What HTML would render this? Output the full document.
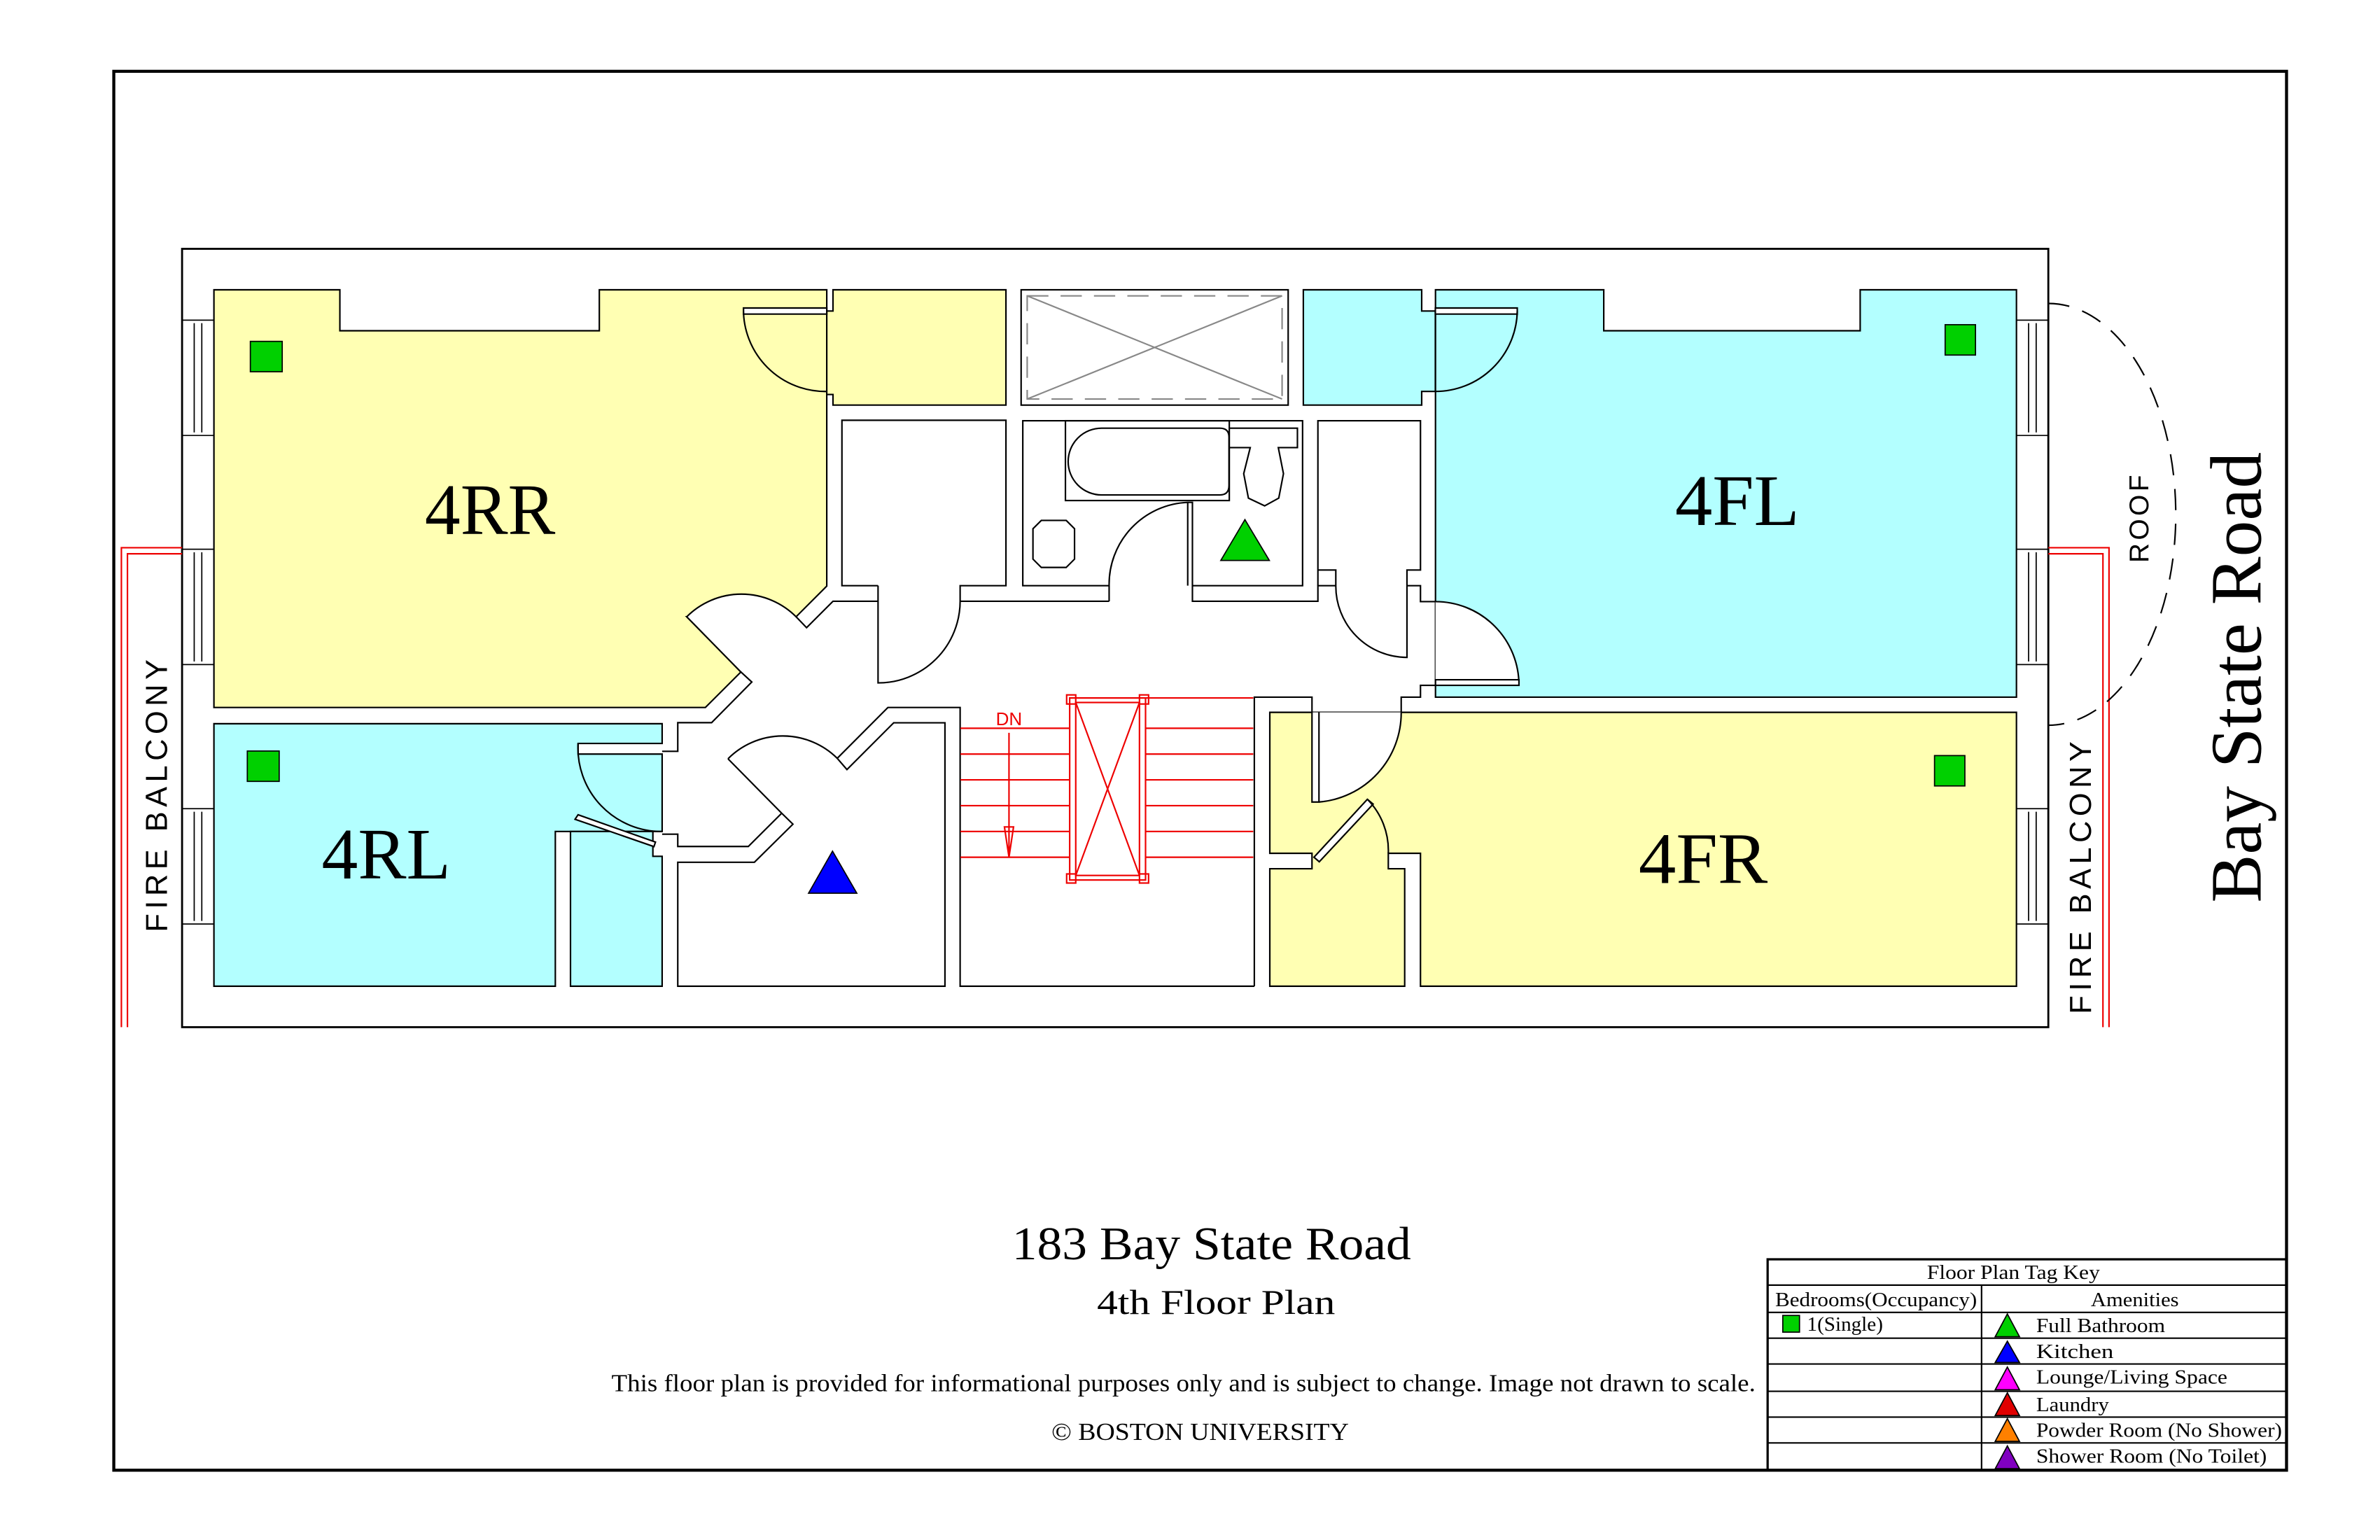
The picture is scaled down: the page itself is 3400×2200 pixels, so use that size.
<!DOCTYPE html>
<html><head><meta charset="utf-8"><style>
html,body{margin:0;padding:0;background:#fff}
svg{display:block}
.s{font-family:"Liberation Serif",serif}
.a{font-family:"Liberation Sans",sans-serif}
</style></head><body>
<svg width="3400" height="2200" viewBox="0 0 1568.6 1015" preserveAspectRatio="none" xmlns="http://www.w3.org/2000/svg">
<rect x="0" y="0" width="1569" height="1015" fill="#fff"/>
<rect x="75" y="47" width="1432" height="922" fill="none" stroke="#000" stroke-width="2"/>
<rect x="120" y="164" width="1230" height="513" fill="none" stroke="#000" stroke-width="1.3"/>
<g stroke="#000" stroke-width="1" fill="#ffffb3">
<polygon points="141,191 224,191 224,218 395,218 395,191 544.9,191 544.9,386.3 524.7,406.5 452.6,406.5 488.3,442.9 464.9,466.3 141,466.3"/>
<polygon points="549,191 663,191 663,267 549,267 549,260 544.9,260 544.9,205 549,205"/>
<polygon points="836.9,469.5 1329,469.5 1329,650 936.2,650 936.2,562.4 915,562.4 915,572.6 925.8,572.6 925.8,650 836.9,650 836.9,572.6 864.7,572.6 864.7,562.4 836.9,562.4"/>
</g>
<g stroke="#000" stroke-width="1" fill="#b3ffff">
<polygon points="859,191 937,191 937,205 946,205 946,258 937,258 937,267 859,267"/>
<polygon points="946.1,191 1057,191 1057,218 1226,218 1226,191 1329,191 1329,459.5 946.1,459.5"/>
<polygon points="141,477 436.4,477 436.4,490 381,490 381,497 436.4,497 436.4,548 366,548 366,650 141,650"/>
<polygon points="376,548 430.3,548 430.3,564.4 436.4,564.4 436.4,650 376,650"/>
</g>
<g stroke="#000" stroke-width="1" fill="none">
<!-- 4RR doors -->
<path d="M488.3,442.9 L452.6,406.5 A51,51 0 0 1 524.7,406.5 Z" fill="#fff" stroke="none"/>
<path d="M452.6,406.5 A51,51 0 0 1 524.7,406.5"/>
<path d="M452.6,406.5 L488.3,442.9 L495.5,449.5 L469,476.3 L446.7,476.3 L446.7,495.2 L436.4,495.2"/>
<path d="M524.7,406.5 L531.6,413.7 L549,396.3 L578.7,396.3"/>
<path d="M490,203 L544.9,203 L544.9,207 L490,207 Z" fill="#fff"/>
<path d="M490,203 A54,54 0 0 0 544.9,258"/>
<!-- closet left -->
<path d="M578.7,386 L554.9,386 L554.9,277 L663,277 L663,386 L632.8,386 L632.8,396.3 L731,396.3"/>
<path d="M578.7,386 L578.7,450.1 A54,54 0 0 0 632.8,396.3"/>
<!-- skylight -->
<rect x="673" y="191" width="176" height="76"/>
<rect x="677" y="195" width="168" height="68" stroke="#888" stroke-dasharray="14,8"/>
<path d="M677,195 L845,263 M845,195 L677,263" stroke="#888"/>
<!-- bath -->
<path d="M731,386 L674.1,386 L674.1,277.3 L858.5,277.3 L858.5,386 L785.9,386"/>
<rect x="702.2" y="277.3" width="108" height="52.6"/>
<path d="M726,282.2 L804,282.2 Q810,282.2 810,288 L810,320 Q810,326.2 804,326.2 L726,326.2 A22,22 0 0 1 726,282.2 Z"/>
<path d="M810.5,282.2 L855.1,282.2 L855.1,295 L842.5,295 L845.9,312.2 L842.8,328.3 L833.5,333.4 L822.8,328.3 L819.7,312.2 L824,295 L810.5,295"/>
<polygon points="686.3,343 702.7,343 708.2,348.5 708.2,368.5 702.7,374 686.3,374 680.8,368.5 680.8,348.5"/>
<path d="M731,396.3 L731,386 A54,54 0 0 1 782.8,331.1 L785.9,331.1 L785.9,396.3 L868.6,396.3 L868.6,386 L880.4,386"/>
<path d="M782.8,331.1 L782.8,386"/>
<!-- right closet -->
<path d="M868.6,386 L868.6,375.7 L880.4,375.7 L880.4,386 A47,47 0 0 0 927.3,433.3 L927.3,375.7 L936.2,375.7 L936.2,277.3 L868.6,277.3 L868.6,375.7"/>
<path d="M927.3,386 L936.2,386 L936.2,396.5 L946.1,396.5"/>
<!-- 4FL doors -->
<path d="M946,203 L1000,203 L1000,207 L946,207 Z" fill="#fff"/>
<path d="M1000,205 A54,54 0 0 1 946,258"/>
<path d="M946.1,451.7 L946.1,396.5 A55,55 0 0 1 1001.1,451.7 Z" fill="#fff" stroke="none"/>
<path d="M946.1,396.5 A55,55 0 0 1 1001.1,451.7"/>
<path d="M946.1,448 L1001.1,448 L1001.1,451.7 L946.1,451.7 Z" fill="#fff"/>
<path d="M946.1,451.7 L936.2,451.7 L936.2,459.5 L923.5,459.5 L923.5,469.5"/>
<!-- 4FR doors / corridor -->
<path d="M864.7,469.5 L923.5,469.5 A59,59 0 0 1 869.3,528.6 L864.7,528.6 Z" fill="#fff" stroke="none"/>
<path d="M923.5,469.5 A59,59 0 0 1 869.3,528.6"/>
<path d="M826.7,650 L826.7,459.5 L864.7,459.5 L864.7,528.6 L869.3,528.6 L869.3,469.5"/>
<path d="M866,565 L901.2,526.8 L905,530 L869.5,568 Z" fill="#fff"/>
<path d="M901.2,526.8 A48,48 0 0 1 915,562.4"/>
<!-- 4RL doors -->
<path d="M381,490 A55,55 0 0 0 436.4,548"/>
<path d="M381,537 L432,555 L431,558 L379,540 Z" fill="#fff"/>
<!-- kitchen -->
<path d="M515.2,536 L479.8,500.1 A51,51 0 0 1 551.8,499.8 Z" fill="#fff" stroke="none"/>
<path d="M479.8,500.1 A51,51 0 0 1 551.8,499.8"/>
<path d="M479.8,500.1 L515.2,536 L522.6,543.2 L497.2,568.3 L446.7,568.3 L446.7,650 L622.8,650 L622.8,476.4 L589,476.4 L558.2,507.2 L551.8,499.8 L585.2,466.3 L632.8,466.3 L632.8,650 L826.7,650"/>
<path d="M515.2,536 L493.2,557.9 L446.7,557.9 L446.7,549.8 L436.4,549.8"/>
</g>
<!-- stairs -->
<g stroke="#e00" stroke-width="1" fill="none">
<path d="M633,480 L705,480 M633,497 L705,497 M633,514 L705,514 M633,531 L705,531 M633,548 L705,548 M633,565 L705,565"/>
<path d="M755,480 L826,480 M755,497 L826,497 M755,514 L826,514 M755,531 L826,531 M755,548 L826,548 M755,565 L826,565 M705,460 L826,460"/>
<rect x="705" y="460" width="50" height="120"/>
<rect x="709" y="463" width="42" height="114"/>
<path d="M709,463 L751,577 M751,463 L709,577"/>
<rect x="703" y="458" width="6" height="6"/><rect x="751" y="458" width="6" height="6"/>
<rect x="703" y="576" width="6" height="6"/><rect x="751" y="576" width="6" height="6"/>
<path d="M665,483 L665,565 M662,545 L665,565 L668,545 Z"/>
</g>
<text x="665" y="478" class="a" font-size="12" fill="#e00" text-anchor="middle">DN</text>
<!-- windows -->
<g stroke="#000" stroke-width="0.8" fill="none">
<path d="M120,211 L141,211 M120,287 L141,287 M120,362 L141,362 M120,438 L141,438 M120,533 L141,533 M120,609 L141,609"/>
<path d="M128,213 L128,285 M133,213 L133,285 M128,364 L128,436 M133,364 L133,436 M128,535 L128,607 M133,535 L133,607"/>
<path d="M1329,211 L1350,211 M1329,287 L1350,287 M1329,362 L1350,362 M1329,438 L1350,438 M1329,533 L1350,533 M1329,609 L1350,609"/>
<path d="M1337,213 L1337,285 M1342,213 L1342,285 M1337,364 L1337,436 M1342,364 L1342,436 M1337,535 L1337,607 M1342,535 L1342,607"/>
</g>
<g stroke="#e00" stroke-width="1" fill="none">
<path d="M80,677 L80,361 L120,361 M84,677 L84,365 L120,365"/>
<path d="M1390,677 L1390,361 L1350,361 M1386,677 L1386,365 L1350,365"/>
</g>
<path d="M1350,200 A84,139 0 0 1 1350,478" fill="none" stroke="#000" stroke-width="1" stroke-dasharray="14,9"/>
<g stroke="#000" stroke-width="0.8">
<rect x="165" y="225" width="21" height="20" fill="#00d000"/>
<rect x="1282" y="214" width="20" height="20" fill="#00d000"/>
<rect x="163" y="495" width="21" height="20" fill="#00d000"/>
<rect x="1275" y="498" width="20" height="20" fill="#00d000"/>
<polygon points="820.5,342.5 804.6,369.4 836.6,369.4" fill="#00d000"/>
<polygon points="548.7,561 532.9,588.7 564.7,588.7" fill="#0000ff"/>
</g>
<g class="s" font-size="48" fill="#000" lengthAdjust="spacingAndGlyphs">
<text x="280" y="352" textLength="86" lengthAdjust="spacingAndGlyphs">4RR</text>
<text x="1104" y="346" textLength="82" lengthAdjust="spacingAndGlyphs">4FL</text>
<text x="212" y="579" textLength="85" lengthAdjust="spacingAndGlyphs">4RL</text>
<text x="1080" y="582" textLength="85" lengthAdjust="spacingAndGlyphs">4FR</text>
</g>
<text transform="translate(110,523) rotate(-90)" class="a" font-size="20" letter-spacing="3" text-anchor="middle" fill="#000">FIRE BALCONY</text>
<text transform="translate(1378,577) rotate(-90)" class="a" font-size="20" letter-spacing="3" text-anchor="middle" fill="#000">FIRE BALCONY</text>
<text transform="translate(1416,341) rotate(-90)" class="a" font-size="18" letter-spacing="2" text-anchor="middle" fill="#000">ROOF</text>
<text transform="translate(1490,595) rotate(-90)" class="s" font-size="48" textLength="297" lengthAdjust="spacingAndGlyphs" fill="#000">Bay State Road</text>
<g class="s" fill="#000">
<text x="667" y="830" font-size="31" textLength="263" lengthAdjust="spacingAndGlyphs">183 Bay State Road</text>
<text x="723" y="866" font-size="23" textLength="157" lengthAdjust="spacingAndGlyphs">4th Floor Plan</text>
<text x="403" y="917" font-size="16" textLength="754" lengthAdjust="spacingAndGlyphs">This floor plan is provided for informational purposes only and is subject to change. Image not drawn to scale.</text>
<text x="693" y="949" font-size="16" textLength="196" lengthAdjust="spacingAndGlyphs">© BOSTON UNIVERSITY</text>
</g>
<g stroke="#000" stroke-width="1" fill="none">
<rect x="1165" y="830" width="342" height="139" stroke-width="1.5"/>
<path d="M1165,847 L1507,847 M1165,865 L1507,865 M1165,882 L1507,882 M1165,899 L1507,899 M1165,917 L1507,917 M1165,934 L1507,934 M1165,951 L1507,951 M1306,847 L1306,969"/>
</g>
<g stroke="#000" stroke-width="0.8">
<rect x="1175" y="867" width="11" height="11" fill="#00d000"/>
<polygon points="1323,866 1315,881 1331,881" fill="#00d000"/>
<polygon points="1323,884 1315,898 1331,898" fill="#0000ff"/>
<polygon points="1323,901 1315,916 1331,916" fill="#ff00ff"/>
<polygon points="1323,918 1315,933 1331,933" fill="#e00000"/>
<polygon points="1323,935 1315,950 1331,950" fill="#ff8000"/>
<polygon points="1323,953 1315,968 1331,968" fill="#8000c0"/>
</g>
<g class="s" font-size="13" fill="#000">
<text x="1270" y="843" textLength="114" lengthAdjust="spacingAndGlyphs">Floor Plan Tag Key</text>
<text x="1170" y="861" textLength="133" lengthAdjust="spacingAndGlyphs">Bedrooms(Occupancy)</text>
<text x="1378" y="861" textLength="58" lengthAdjust="spacingAndGlyphs">Amenities</text>
<text x="1191" y="877" textLength="50" lengthAdjust="spacingAndGlyphs">1(Single)</text>
<text x="1342" y="878" textLength="85" lengthAdjust="spacingAndGlyphs">Full Bathroom</text>
<text x="1342" y="895" textLength="51" lengthAdjust="spacingAndGlyphs">Kitchen</text>
<text x="1342" y="912" textLength="126" lengthAdjust="spacingAndGlyphs">Lounge/Living Space</text>
<text x="1342" y="930" textLength="48" lengthAdjust="spacingAndGlyphs">Laundry</text>
<text x="1342" y="947" textLength="162" lengthAdjust="spacingAndGlyphs">Powder Room (No Shower)</text>
<text x="1342" y="964" textLength="152" lengthAdjust="spacingAndGlyphs">Shower Room (No Toilet)</text>
</g>
</svg>
</body></html>
